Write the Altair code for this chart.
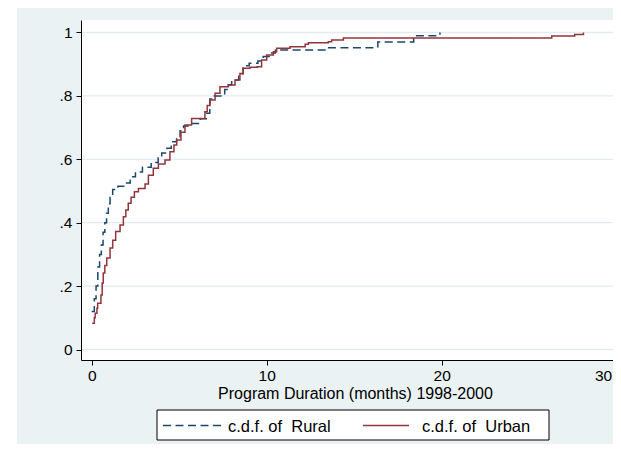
import altair as alt
import pandas as pd

# ---- data ----
rural_months = [0.0, 0.15, 0.25, 0.35, 0.45, 0.55, 0.65, 0.75, 0.85, 0.95, 1.05, 1.2, 1.5, 1.9,
                2.2, 2.5, 2.9, 3.4, 3.8, 4.0, 4.3, 4.55, 4.85, 5.05, 5.25, 5.5, 6.2, 6.55, 6.75,
                6.9, 7.6, 7.8, 8.0, 8.4, 8.65, 9.0, 9.5, 9.8, 10.2, 10.5, 13.45, 16.35, 18.4, 19.9]
rural_cdf = [0.12, 0.16, 0.20, 0.26, 0.30, 0.33, 0.37, 0.40, 0.43, 0.46, 0.49, 0.505, 0.515, 0.525,
             0.545, 0.56, 0.575, 0.59, 0.605, 0.62, 0.635, 0.655, 0.67, 0.69, 0.705, 0.713, 0.728,
             0.745, 0.79, 0.80, 0.82, 0.835, 0.85, 0.87, 0.895, 0.903, 0.91, 0.924, 0.935, 0.945,
             0.952, 0.97, 0.99, 1.0]

urban_months = [0.03, 0.15, 0.2, 0.3, 0.34, 0.53, 0.6, 0.66, 0.75, 0.86, 1.05, 1.2, 1.37, 1.62,
                1.81, 1.95, 2.09, 2.25, 2.44, 2.67, 3.05, 3.24, 3.52, 3.81, 4.19, 4.47, 4.7, 4.86,
                5.1, 5.33, 5.71, 6.47, 6.6, 6.76, 7.05, 7.33, 7.81, 8.19, 8.47, 8.66, 9.05, 9.46,
                9.71, 10.0, 10.38, 10.57, 11.33, 12.2, 12.38, 13.52, 13.71, 14.38, 26.29, 27.6, 28.1]
urban_cdf = [0.083, 0.10, 0.114, 0.13, 0.146, 0.172, 0.21, 0.241, 0.265, 0.289, 0.32, 0.345, 0.372,
             0.393, 0.419, 0.44, 0.461, 0.48, 0.498, 0.508, 0.522, 0.55, 0.572, 0.585, 0.598, 0.624,
             0.645, 0.661, 0.685, 0.708, 0.729, 0.75, 0.77, 0.787, 0.808, 0.829, 0.834, 0.85, 0.871,
             0.887, 0.89, 0.892, 0.913, 0.929, 0.939, 0.95, 0.955, 0.963, 0.968, 0.971, 0.976,
             0.983, 0.989, 0.994, 1.0]

series_names = ["Rural", "Urban"]
legend_labels = ["c.d.f. of\u00a0 Rural", "c.d.f. of\u00a0 Urban"]
x_ticks = [0, 10, 20, 30]
y_ticks = [0, 0.2, 0.4, 0.6, 0.8, 1]
y_tick_labels = ["0", ".2", ".4", ".6", ".8", "1"]
x_title = "Program Duration (months) 1998-2000"

# ---- styling / layout ----
FONT = "Liberation Sans"
LIGHT = "#EAF2F3"
GRID = "#E3EBEE"
COLORS = ["#1A476F", "#90353B"]
DASHES = [[8, 4.5], [1, 0]]
W, H = 532, 340          # visible plot area (page is cut at the right like the reference)
RANGE_W = 548            # full plot-region width of the original graph
X_DOMAIN = [-0.611, 30.703]
Y_DOMAIN = [-0.0331, 1.0394]

xscale = alt.Scale(domain=X_DOMAIN, nice=False, zero=False, range=[0, RANGE_W])
yscale = alt.Scale(domain=Y_DOMAIN, nice=False, zero=False)

label_expr = "[" + ",".join("'%s'" % s for s in y_tick_labels) + "][round(datum.value*5)]"
last_tick_test = "datum.value == %d" % x_ticks[-1]

x_axis = alt.Axis(values=x_ticks, title=x_title, grid=False, zindex=1, format="d",
                  labelFont=FONT, labelFontSize=15.5, labelColor="black", labelPadding=3,
                  labelAlign={"condition": {"test": last_tick_test, "value": "right"}, "value": "center"},
                  labelOffset={"condition": {"test": last_tick_test, "value": -5}, "value": 0},
                  titleFont=FONT, titleFontSize=16, titleFontWeight="normal", titleColor="black",
                  titlePadding=2, tickSize=5, tickColor="black", domainColor="black",
                  labelFlush=False)
y_axis = alt.Axis(values=y_ticks, title=None, grid=False, zindex=1, labelExpr=label_expr,
                  labelFont=FONT, labelFontSize=15.5, labelColor="black", labelPadding=4,
                  tickSize=5, tickColor="black", domainColor="black", labelFlush=False)

one = pd.DataFrame({"k": [0]})

bg = alt.Chart(one).mark_rect(color=LIGHT, clip=False).encode(
    x=alt.value(-64), x2=alt.value(RANGE_W + 20), y=alt.value(-14), y2=alt.value(H + 130))
plotbg = alt.Chart(one).mark_rect(color="white", clip=False).encode(
    x=alt.value(0), x2=alt.value(RANGE_W), y=alt.value(0), y2=alt.value(H))
grid = alt.Chart(pd.DataFrame({"v": y_ticks})).mark_rule(color=GRID, strokeWidth=1.3, clip=False).encode(
    y=alt.Y("v:Q", scale=yscale, axis=y_axis), x=alt.value(0), x2=alt.value(RANGE_W))

series_data = [(rural_months, rural_cdf), (urban_months, urban_cdf)]
lines = []
for name, (mm, pp), col, dash in zip(series_names, series_data, COLORS, DASHES):
    d = pd.DataFrame({"m": mm, "p": pp, "series": name})
    lines.append(
        alt.Chart(d).mark_line(interpolate="step-after", color=col, strokeWidth=1.5,
                               strokeDash=dash).encode(
            x=alt.X("m:Q", scale=xscale, axis=x_axis),
            y=alt.Y("p:Q", scale=yscale, axis=y_axis),
        )
    )

# legend (manual, Stata-like box)
legend_box = alt.Chart(one).mark_rect(fill="white", stroke="black", strokeWidth=1).encode(
    x=alt.value(76), x2=alt.value(468), y=alt.value(390), y2=alt.value(420))
sample_pos = [(82, 141), (282, 328)]
text_x = [147, 341]
legend_layers = [legend_box]
for lab, col, dash, (sx1, sx2), tx in zip(legend_labels, COLORS, DASHES, sample_pos, text_x):
    legend_layers.append(
        alt.Chart(one).mark_rule(color=col, strokeWidth=1.5, strokeDash=dash).encode(
            x=alt.value(sx1), x2=alt.value(sx2), y=alt.value(405.5)))
    legend_layers.append(
        alt.Chart(pd.DataFrame({"t": [lab]})).mark_text(
            font=FONT, fontSize=16.5, color="black", align="left", baseline="alphabetic").encode(
            text="t:N", x=alt.value(tx), y=alt.value(411.5)))

chart = alt.layer(bg, plotbg, grid, *lines, *legend_layers).properties(
    width=W, height=H,
    autosize=alt.AutoSizeParams(type="none"),
    padding={"left": 73, "top": 12, "right": 0, "bottom": 84},
    background="white",
).configure_view(strokeWidth=0)

chart.save("out.html", embed_options={"renderer": "svg", "actions": False})
